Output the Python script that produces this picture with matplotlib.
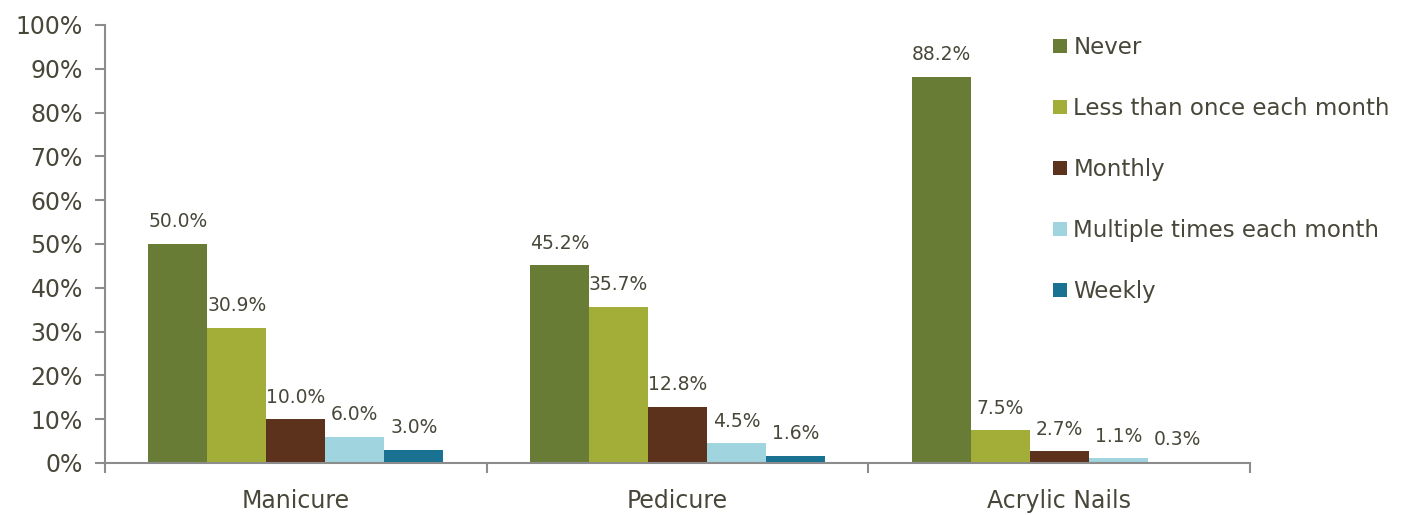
import numpy as np
import matplotlib
matplotlib.use("Agg")
import matplotlib.pyplot as plt
from matplotlib.ticker import FuncFormatter, FixedLocator

categories = ["Manicure", "Pedicure", "Acrylic Nails"]
series_names = ["Never", "Less than once each month", "Monthly",
                "Multiple times each month", "Weekly"]
never = [50.0, 45.2, 88.2]
less_than_monthly = [30.9, 35.7, 7.5]
monthly = [10.0, 12.8, 2.7]
multiple_monthly = [6.0, 4.5, 1.1]
weekly = [3.0, 1.6, 0.3]
y_ticks = list(range(0, 101, 10))

series_values = [never, less_than_monthly, monthly, multiple_monthly, weekly]
colors = ["#687C35", "#A2AE38", "#5C321D", "#A0D4DE", "#1A7293"]
text_color = "#48473A"
axis_color = "#8C8C8C"

plt.rcParams["font.family"] = ["DejaVu Sans"]

fig = plt.figure(figsize=(14.16, 5.15), dpi=100)
ax = fig.add_axes([0.0742, 0.101, 0.8086, 0.8505])

x = np.arange(len(categories))
bar_w = 0.1546
offsets = (np.arange(len(series_names)) - 2) * bar_w

for vals, name, col, off in zip(series_values, series_names, colors, offsets):
    bars = ax.bar(x + off, vals, width=bar_w, color=col, label=name,
                  linewidth=0)
    for b, v in zip(bars, vals):
        ax.annotate(f"{v:.1f}%", (b.get_x() + b.get_width() / 2, v),
                    xytext=(0, 9), textcoords="offset points",
                    ha="center", va="bottom", fontsize=13.5, color=text_color)

ax.set_xlim(-0.5, len(categories) - 0.5)
ax.set_ylim(0, 100)
ax.yaxis.set_major_locator(FixedLocator(y_ticks))
ax.yaxis.set_major_formatter(FuncFormatter(lambda v, p: f"{v:.0f}%"))

# category labels centred, boundary ticks between groups
ax.set_xticks(x)
ax.set_xticklabels(categories)
ax.tick_params(axis="x", which="major", length=0, pad=19,
               labelsize=17, labelcolor=text_color)
ax.set_xticks(np.arange(-0.5, len(categories) + 0.5, 1.0), minor=True)
ax.tick_params(axis="x", which="minor", length=7, width=1.5,
               color=axis_color, direction="out")
ax.tick_params(axis="y", length=7, width=1.5, color=axis_color,
               direction="out", labelsize=17, labelcolor=text_color, pad=9)

for side in ["top", "right"]:
    ax.spines[side].set_visible(False)
for side in ["left", "bottom"]:
    ax.spines[side].set_color(axis_color)
    ax.spines[side].set_linewidth(1.5)

leg = fig.legend(loc="upper left", bbox_to_anchor=(0.737, 0.948),
                 frameon=False, fontsize=16.5, labelcolor=text_color,
                 handlelength=0.6, handleheight=0.6, handletextpad=0.3,
                 labelspacing=1.66, borderaxespad=0)

fig.savefig("out.png", dpi=100, facecolor="white")
